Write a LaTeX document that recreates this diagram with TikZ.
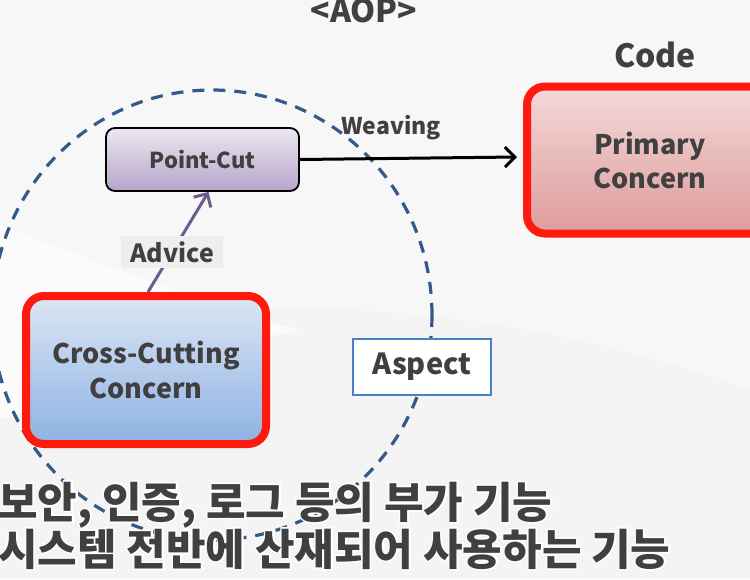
\documentclass[tikz,border=0pt]{standalone}
\usepackage{fontspec}
\setmainfont{Noto Sans CJK KR}
\newfontfamily\krhalo{Noto Sans CJK KR}[UprightFeatures={FakeBold=7}, BoldFeatures={FakeBold=7}]
\usetikzlibrary{arrows.meta, positioning}

\definecolor{txtgray}{HTML}{404040}
\definecolor{conred}{HTML}{FF1A10}
\definecolor{ringblue}{HTML}{35598A}
\definecolor{aspblue}{HTML}{4A7EC8}
\definecolor{advpurple}{HTML}{6B5B8E}
\definecolor{cuttop}{HTML}{ECE6F1}
\definecolor{cutbot}{HTML}{B6A6CA}
\definecolor{primtop}{HTML}{F4D8D8}
\definecolor{primbot}{HTML}{DE9C9C}
\definecolor{crosstop}{HTML}{DCE6F4}
\definecolor{crossbot}{HTML}{8EB2E3}

\begin{document}
\begin{tikzpicture}[x=1pt, y=-1pt,
  concern/.style={rectangle, rounded corners=18pt, draw=conred, line width=8pt, align=center, text=txtgray, font=\bfseries\fontsize{27}{35}\selectfont},
  cut/.style={rectangle, rounded corners=9pt, draw=black, line width=1.8pt, top color=cuttop, bottom color=cutbot, text=txtgray, font=\bfseries\fontsize{22}{26}\selectfont, minimum width=193pt, minimum height=63pt},
  tag/.style={text=txtgray, font=\bfseries\fontsize{23}{28}\selectfont},
  sub/.style={anchor=base west, text=txtgray, font=\bfseries\fontsize{43}{50}\selectfont, inner sep=0pt},
  halo/.style={sub, text=white, font=\krhalo\bfseries\fontsize{43}{50}\selectfont},
  arr/.style={-{Straight Barb[length=10pt, width=20pt]}, line width=3pt}
]

% background
\useasboundingbox (0,0) rectangle (750,579);
\fill[gray!6] (0,0) rectangle (750,579);
\fill[gray!9] (0,330) .. controls (250,290) and (500,300) .. (750,390) -- (750,579) -- (0,579) -- cycle;
\fill[gray!3] (0,225) .. controls (120,270) and (220,310) .. (300,330) .. controls (200,350) and (90,390) .. (0,420) -- cycle;

% aspect ring
\draw[ringblue, line width=3.2pt, dash pattern=on 12pt off 9pt] (212,315) ellipse [x radius=220, y radius=225];

% titles
\node[tag, font=\bfseries\fontsize{32}{34}\selectfont] (aop) at (364,11) {<AOP>};
\node[tag, font=\bfseries\fontsize{32}{34}\selectfont] (code) at (655,55) {Code};

% concerns
\node[concern, top color=primtop, bottom color=primbot, minimum width=246pt, minimum height=147pt, font=\bfseries\fontsize{27}{34}\selectfont] (primary) at (650,160) {Primary\\Concern};
\node[concern, top color=crosstop, bottom color=crossbot, minimum width=240pt, minimum height=148pt] (cross) at (146,370) {Cross-Cutting\\Concern};

% point-cut and aspect
\node[cut] (pointcut) at (202.5,159.5) {Point-Cut};
\node[rectangle, draw=aspblue, line width=2.5pt, fill=white, minimum width=138pt, minimum height=56pt, text=txtgray, font=\bfseries\fontsize{29}{32}\selectfont] (aspect) at (422,367) {Aspect};

% connections
\coordinate (target) at (517,157);
\draw[arr] (pointcut.east) -- node[tag, above=14pt, pos=0.42] (weaving) {Weaving} (target);
\draw[arr, advpurple] (cross.north) ++(2,0) -- node[pos=0.4, fill=gray!13, tag, font=\bfseries\fontsize{25}{28}\selectfont, inner xsep=9pt, inner ysep=5pt] (advice) {Advice} ([xshift=6pt]pointcut.south);

% subtitle
\node[halo] (halo1) at (-2,518) {보안, 인증, 로그 등의 부가 기능};
\node[halo] (halo2) at (-2,565) {시스템 전반에 산재되어 사용하는 기능};
\node[sub] (line1) at (-2,518) {보안, 인증, 로그 등의 부가 기능};
\node[sub] (line2) at (-2,565) {시스템 전반에 산재되어 사용하는 기능};

\end{tikzpicture}
\end{document}
